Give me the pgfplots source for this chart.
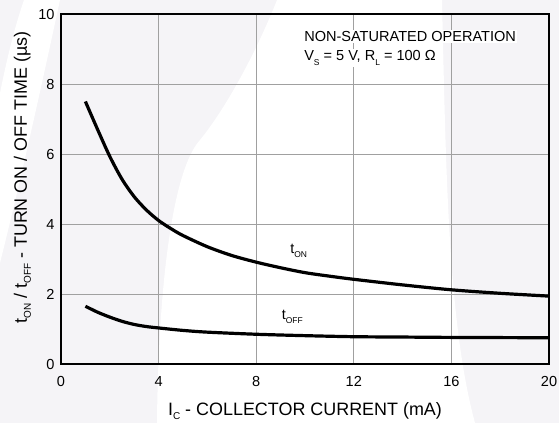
\documentclass[border=0pt]{standalone}
\usepackage{fontspec}
\setmainfont{Liberation Sans}
\usepackage{pgfplots}
\pgfplotsset{compat=1.18}
\definecolor{bggray}{RGB}{245,244,247}
\definecolor{gridgray}{RGB}{160,160,160}
\newcommand{\sub}[3]{\raisebox{-#2}{\fontsize{#1}{#1}\selectfont #3}}
\begin{document}
\begin{tikzpicture}[x=1bp,y=1bp]
\useasboundingbox (0,0) rectangle (559,423);
\fill[bggray] (0,0) rectangle (559,423);
\fill[white] (277,423) -- (442,423) .. controls (446,250) and (448,100) .. (475,0) -- (157,0) .. controls (158,120) and (170,250) .. (200,283) .. controls (230,320) and (260,380) .. (277,423) -- cycle;
\fill[white] (24,423) -- (60,423) .. controls (40,330) and (20,240) .. (0,160) -- (0,330) .. controls (8,370) and (16,400) .. (24,423) -- cycle;
\begin{axis}[
  at={(61bp,59bp)}, anchor=south west,
  scale only axis, width=488bp, height=350bp,
  xmin=0, xmax=20, ymin=0, ymax=10,
  xtick={0,4,8,12,16,20}, ytick={0,2,4,6,8,10},
  grid=major, major grid style={gridgray, line width=0.9bp},
  major tick length=0pt,
  axis line style={line width=1.8bp, black},
  tick label style={font=\fontsize{14.6}{17}\selectfont},
  /pgf/number format/assume math mode=true,
  xticklabel style={anchor=base, yshift=-22bp},
  yticklabel style={xshift=-3bp},
  xlabel={I\sub{10}{4bp}{C} - COLLECTOR CURRENT (mA)},
  ylabel={t\sub{10}{4bp}{ON} / t\sub{10}{4bp}{OFF} - TURN ON / OFF TIME (µs)},
  xlabel style={at={([yshift=-51bp]rel axis cs:0.5,0)}, anchor=base, font=\fontsize{18}{21}\selectfont},
  ylabel style={at={([xshift=-34bp]rel axis cs:0,0.533)}, anchor=base, font=\fontsize{18}{21}\selectfont},
]
\addplot[black, line width=3.2bp, smooth] coordinates {
  (1.0,7.50) (1.5,6.70) (2.0,5.93) (2.5,5.28) (3.0,4.78) (3.5,4.40) (4.0,4.10)
  (4.5,3.87) (5.0,3.67) (6.0,3.35) (7.0,3.10) (8.0,2.91) (9.0,2.75) (10.0,2.61)
  (11.0,2.51) (12.0,2.42) (14.0,2.26) (16.0,2.12) (18.0,2.02) (20.0,1.94)
};
\addplot[black, line width=3.2bp, smooth] coordinates {
  (1.0,1.65) (1.5,1.48) (2.0,1.34) (2.5,1.22) (3.0,1.13) (3.5,1.07) (4.0,1.03)
  (5.0,0.96) (6.0,0.91) (8.0,0.85) (10.0,0.81) (12.0,0.78) (14.0,0.77) (16.0,0.76) (20.0,0.75)
};
\node[anchor=base west, fill=white, inner sep=1bp, font=\fontsize{14.6}{17}\selectfont] at (axis cs:9.92,9.21) {NON-SATURATED OPERATION};
\node[anchor=base west, fill=white, inner sep=1bp, font=\fontsize{14.6}{17}\selectfont] at (axis cs:9.92,8.67) {V\sub{8.5}{5bp}{S} = 5 V, R\sub{8.5}{5bp}{L} = 100 Ω};
\node[anchor=base west, inner sep=0pt, font=\fontsize{14.5}{17}\selectfont] at (axis cs:9.39,3.16) {t\sub{8.5}{4bp}{ON}};
\node[anchor=base west, inner sep=0pt, font=\fontsize{14.5}{17}\selectfont] at (axis cs:9.04,1.27) {t\sub{8.5}{4bp}{OFF}};
\end{axis}
\end{tikzpicture}
\end{document}
